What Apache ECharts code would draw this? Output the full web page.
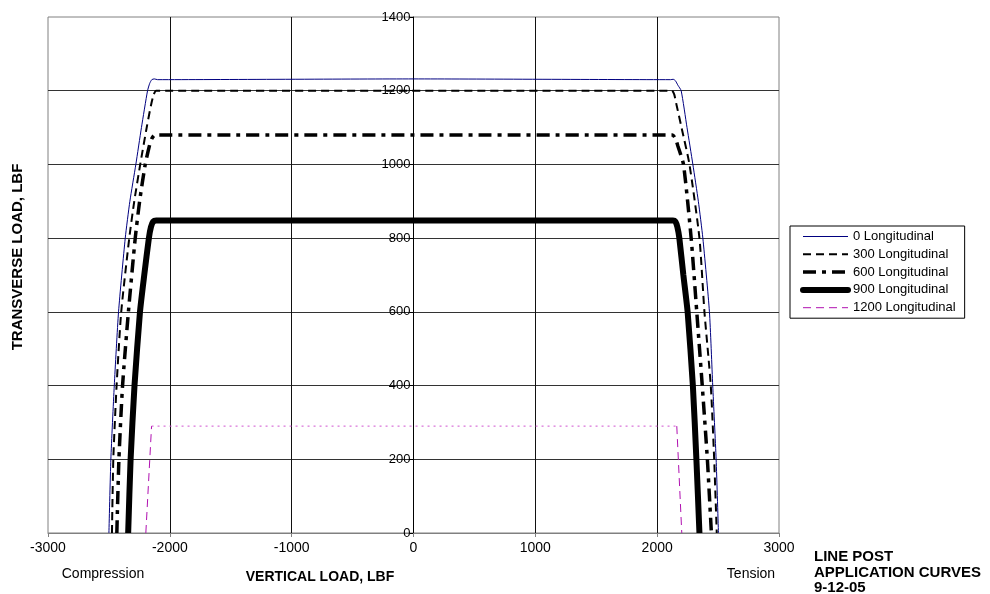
<!DOCTYPE html>
<html><head><meta charset="utf-8">
<script src="https://cdn.jsdelivr.net/npm/echarts@6/dist/echarts.min.js"></script>
<style>html,body{margin:0;padding:0;background:#fff}#c{width:990px;height:594px}</style>
</head><body><div id="c"></div>
<script>
// ---- data (vertical load, transverse load) ----
const seriesNames = ['0 Longitudinal', '300 Longitudinal', '600 Longitudinal', '900 Longitudinal', '1200 Longitudinal'];

const long0 = [
  [-2500, 0], [-2484, 200], [-2456, 400], [-2421, 600], [-2366, 800], [-2328, 900], [-2279, 1000],
  [-2233, 1100], [-2183, 1200], [-2165, 1220], [-2148, 1230], [-2128, 1232], [-2100, 1230],
  [0, 1232], [2110, 1230], [2132, 1231], [2150, 1227], [2170, 1215], [2197, 1200], [2245, 1100],
  [2293, 1000], [2338, 900], [2375, 800], [2429, 600], [2456, 400], [2484, 200], [2503, 0]
];
const long300 = [
  [-2475, 0], [-2464, 200], [-2437, 400], [-2399, 600], [-2333, 800], [-2292, 900], [-2243, 1000],
  [-2190, 1100], [-2155, 1160], [-2132, 1190], [-2112, 1200],
  [2120, 1200], [2140, 1190], [2160, 1160], [2200, 1100], [2265, 1000], [2347, 800],
  [2388, 600], [2440, 400], [2468, 200], [2489, 0]
];
const long600 = [
  [-2435, 0], [-2418, 200], [-2388, 400], [-2340, 600], [-2284, 800], [-2248, 900], [-2202, 1000],
  [-2168, 1050], [-2148, 1070], [-2122, 1080],
  [2125, 1080], [2150, 1070], [2170, 1050], [2216, 1000], [2279, 800], [2325, 600],
  [2370, 400], [2412, 200], [2445, 0]
];
const long900 = [
  [-2342, 0], [-2322, 200], [-2290, 400], [-2245, 600], [-2210, 700], [-2172, 800], [-2155, 830],
  [-2137, 845], [-2112, 848],
  [2130, 848], [2150, 845], [2166, 830], [2182, 800], [2215, 700], [2250, 600],
  [2293, 400], [2322, 200], [2347, 0]
];
const long1200Left = [[-2197, 0], [-2150, 290]];
const long1200Top = [[-2150, 290], [2161, 290]];
const long1200Right = [[2161, 290], [2202, 0]];

const xRange = {min: -3000, max: 3000, step: 1000};
const yRange = {min: 0, max: 1400, step: 200};

const FONT = 'Liberation Sans, Arial, sans-serif';
const GRID = {left: 48, right: 211, top: 17, bottom: 61};
const plotW = 990 - GRID.left - GRID.right;
const zeroOffset = -plotW * (0 - xRange.min) / (xRange.max - xRange.min);

const chart = echarts.init(document.getElementById('c'), null, {renderer: 'canvas'});
const option = {
  animation: false,
  backgroundColor: '#fff',
  grid: Object.assign({show: true, borderColor: '#808080', borderWidth: 1, backgroundColor: 'transparent'}, GRID),
  xAxis: {
    type: 'value', min: xRange.min, max: xRange.max, interval: xRange.step,
    axisLine: {show: true, onZero: false, lineStyle: {color: '#808080', width: 1}},
    axisTick: {show: true, length: 4, lineStyle: {color: '#808080'}},
    axisLabel: {color: '#000', fontFamily: FONT, fontSize: 14, margin: 8, formatter: v => String(v)},
    splitLine: {show: true, showMinLine: false, showMaxLine: false, lineStyle: {color: '#111', width: 1}}
  },
  yAxis: {
    type: 'value', min: yRange.min, max: yRange.max, interval: yRange.step,
    position: 'left', offset: zeroOffset,
    axisLine: {show: true, onZero: false, lineStyle: {color: '#000', width: 1}},
    axisTick: {show: true, length: 4, lineStyle: {color: '#000'}},
    axisLabel: {color: '#000', fontFamily: FONT, fontSize: 13, margin: 3, formatter: v => String(v)},
    splitLine: {show: true, showMinLine: false, showMaxLine: false, lineStyle: {color: '#333', width: 1}}
  },
  legend: {
    orient: 'vertical', left: 790, top: 226,
    data: [
      {name: seriesNames[0], lineStyle: {width: 1}},
      {name: seriesNames[1], lineStyle: {width: 2}},
      {name: seriesNames[2], lineStyle: {width: 3.5}},
      {name: seriesNames[3], lineStyle: {width: 6, cap: 'round'}},
      {name: seriesNames[4], lineStyle: {width: 1}}
    ],
    itemWidth: 45, itemHeight: 12, itemGap: 4.8,
    padding: [4, 9, 4, 10],
    itemStyle: {opacity: 0},
    borderColor: '#000', borderWidth: 1, backgroundColor: '#fff',
    textStyle: {color: '#000', fontFamily: FONT, fontSize: 13}
  },
  series: [
    {name: seriesNames[0], type: 'line', data: long0, symbol: 'none', smooth: 0.2, lineStyle: {color: '#000080', width: 1}, itemStyle: {color: '#000080'}},
    {name: seriesNames[1], type: 'line', data: long300, symbol: 'none', smooth: 0.2, lineStyle: {color: '#000', width: 2, type: [8, 5]}, itemStyle: {color: '#000'}},
    {name: seriesNames[2], type: 'line', data: long600, symbol: 'none', smooth: 0.2, lineStyle: {color: '#000', width: 3.5, type: [13, 6, 4, 6]}, itemStyle: {color: '#000'}},
    {name: seriesNames[3], type: 'line', data: long900, symbol: 'none', smooth: 0.2, lineStyle: {color: '#000', width: 6}, itemStyle: {color: '#000'}},
    {name: seriesNames[4], type: 'line', data: long1200Left, symbol: 'none', lineStyle: {color: '#B010B0', width: 1, type: [8, 5]}, itemStyle: {color: '#B010B0'}},
    {name: seriesNames[4] + ' top', type: 'line', data: long1200Top, symbol: 'none', lineStyle: {color: '#D050D0', width: 1, type: [2, 4]}},
    {name: seriesNames[4] + ' right', type: 'line', data: long1200Right, symbol: 'none', lineStyle: {color: '#B010B0', width: 1, type: [8, 5]}}
  ],
  graphic: [
    {type: 'text', x: 18, y: 257, rotation: Math.PI / 2, style: {text: 'TRANSVERSE LOAD, LBF', font: 'bold 15px ' + FONT, fill: '#000', textAlign: 'center', textVerticalAlign: 'middle'}},
    {type: 'text', x: 320, y: 577, style: {text: 'VERTICAL LOAD, LBF', font: 'bold 14px ' + FONT, fill: '#000', textAlign: 'center', textVerticalAlign: 'middle'}},
    {type: 'text', x: 103, y: 574, style: {text: 'Compression', font: '14px ' + FONT, fill: '#000', textAlign: 'center', textVerticalAlign: 'middle'}},
    {type: 'text', x: 751, y: 574, style: {text: 'Tension', font: '14px ' + FONT, fill: '#000', textAlign: 'center', textVerticalAlign: 'middle'}},
    {type: 'text', x: 814, y: 557, style: {text: 'LINE POST', font: 'bold 15px ' + FONT, fill: '#000', textAlign: 'left', textVerticalAlign: 'middle'}},
    {type: 'text', x: 814, y: 573, style: {text: 'APPLICATION CURVES', font: 'bold 15px ' + FONT, fill: '#000', textAlign: 'left', textVerticalAlign: 'middle'}},
    {type: 'text', x: 814, y: 588, style: {text: '9-12-05', font: 'bold 15px ' + FONT, fill: '#000', textAlign: 'left', textVerticalAlign: 'middle'}}
  ]
};
chart.setOption(option);
</script>
</body></html>
